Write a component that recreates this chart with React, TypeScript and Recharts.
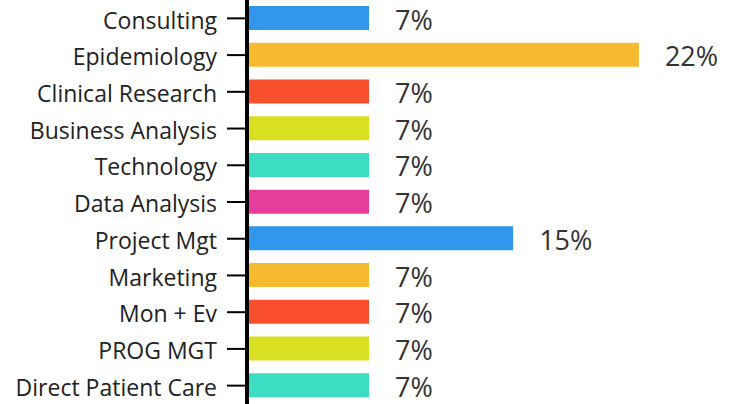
import React from "react";
import { BarChart, Bar, XAxis, YAxis, Cell, LabelList } from "recharts";

const categories = [
  "Consulting",
  "Epidemiology",
  "Clinical Research",
  "Business Analysis",
  "Technology",
  "Data Analysis",
  "Project Mgt",
  "Marketing",
  "Mon + Ev",
  "PROG MGT",
  "Direct Patient Care",
];
const values = [6.85, 22.0, 6.85, 6.85, 6.85, 6.85, 14.94, 6.85, 6.85, 6.85, 6.85];
const colors = [
  "#3196ED",
  "#F7BA2E",
  "#F8502F",
  "#D8E021",
  "#3DDDC4",
  "#E63D9B",
  "#3196ED",
  "#F7BA2E",
  "#F8502F",
  "#D8E021",
  "#3DDDC4",
];

const data = categories.map((name, i) => ({ name, value: values[i] }));

const FONT = "'Open Sans', sans-serif";

export default function App() {
  return (
    <div style={{ position: "absolute", left: 0, top: 0, width: 733, height: 404, background: "#fff" }}>
      <BarChart
        width={733}
        height={404}
        data={data}
        layout="vertical"
        margin={{ top: 0, right: 5, bottom: 0, left: 0 }}
      >
        <XAxis type="number" domain={[0, 27]} hide />
        <YAxis
          type="category"
          dataKey="name"
          width={247}
          axisLine={{ stroke: "#000", strokeWidth: 4 }}
          tickLine={{ stroke: "#000", strokeWidth: 2 }}
          tickSize={20}
          tickMargin={10}
          interval={0}
          tick={{ fill: "#222", fontSize: 23, fontFamily: FONT, dy: 2 }}
        />
        <Bar dataKey="value" barSize={24} isAnimationActive={false}>
          {data.map((d, i) => (
            <Cell key={i} fill={colors[i]} />
          ))}
          <LabelList
            dataKey="value"
            position="right"
            offset={26}
            formatter={(v: number) => `${Math.round(v)}%`}
            style={{ fill: "#333", fontSize: 27, fontFamily: FONT, transform: "translateY(2px)" }}
          />
        </Bar>
      </BarChart>
    </div>
  );
}
